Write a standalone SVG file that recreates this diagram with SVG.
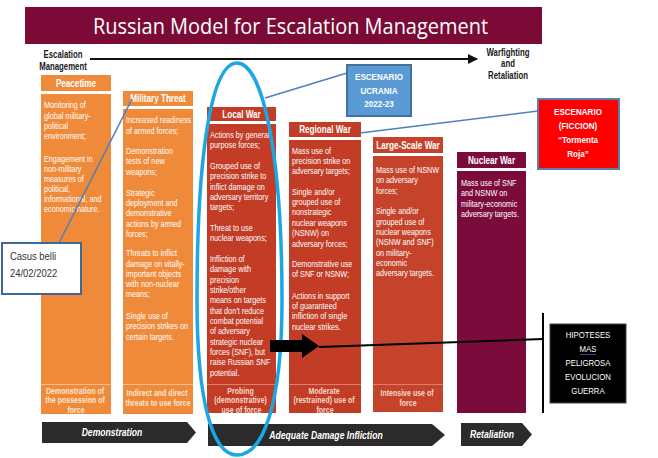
<svg xmlns="http://www.w3.org/2000/svg" width="658" height="458" viewBox="0 0 658 458">
<style>
  text { font-family: "Liberation Sans", Arial, sans-serif; }
  .title { font-family: "Open Sans", "Liberation Sans", sans-serif; font-size: 22px; fill: #ffffff; }
  .lbl { font-size: 10px; font-weight: bold; fill: #1a1a1a; text-anchor: middle; }
  .hd { font-size: 11px; font-weight: bold; fill: #ffffff; text-anchor: middle; }
  .bt { font-size: 9.8px; fill: #ffffff; }
  .ft { font-size: 8.8px; font-weight: bold; text-anchor: middle; }
  .fto { fill: #fde6d2; }
  .ftr { fill: #f8d8cc; }
  .orange { fill: #ef8a3a; }
  .red { fill: #c23c26; }
  .red2 { fill: #c5432a; }
  .maroon { fill: #7b0b3b; }
  .sepo { stroke: #f7bb8e; stroke-width: 1.2; }
  .sepr { stroke: #dd7f6c; stroke-width: 1.2; }
  .bar { fill: #2b2b2b; }
  .bartxt { font-size: 10.5px; font-weight: bold; font-style: italic; fill: #ffffff; text-anchor: middle; }
  .callout { stroke: #4f81bd; stroke-width: 1.6; fill: none; }
  .sc { font-size: 9.5px; font-weight: bold; fill: #ffffff; text-anchor: middle; }
  .hip { font-size: 9.5px; fill: #ffffff; text-anchor: middle; }
</style>
<defs>
  <marker id="ah" viewBox="0 0 10 10" refX="9" refY="5" markerWidth="5" markerHeight="5" orient="auto">
    <path d="M0,0 L10,5 L0,10 Z" fill="#111111"/>
  </marker>
</defs>
<rect width="658" height="458" fill="#ffffff"/>

<g id="title">
  <rect x="25" y="7" width="517" height="37" fill="#7b0b36"/>
  <text class="title" x="93" y="33.5" textLength="395" lengthAdjust="spacingAndGlyphs">Russian Model for Escalation Management</text>
</g>

<g id="escalation-label">
  <text class="lbl" transform="translate(63 0) scale(0.78 1)"><tspan x="0" y="58">Escalation</tspan><tspan x="0" y="70">Management</tspan></text>
</g>
<g id="warfighting-label">
  <text class="lbl" transform="translate(508 0) scale(0.78 1)"><tspan x="0" y="56">Warfighting</tspan><tspan x="0" y="67.5">and</tspan><tspan x="0" y="79">Retaliation</tspan></text>
</g>

<!-- Peacetime -->
<g id="peacetime">
  <rect class="orange" x="41" y="75" width="70" height="16"/>
  <text class="hd" transform="translate(76 0) scale(0.74 1)" x="0" y="87">Peacetime</text>
  <rect class="orange" x="41" y="94" width="70" height="320"/>
  <line class="sepo" x1="41" y1="384.5" x2="111" y2="384.5"/>
  <text class="bt" transform="translate(44 0) scale(0.74 1)">
    <tspan x="0" y="108.5">Monitoring of</tspan>
    <tspan x="0" y="119">global military-</tspan>
    <tspan x="0" y="129.5">political</tspan>
    <tspan x="0" y="139.5">environment;</tspan>
    <tspan x="0" y="162.5">Engagement in</tspan>
    <tspan x="0" y="172.5">non-military</tspan>
    <tspan x="0" y="182.5">measures of</tspan>
    <tspan x="0" y="192.5">political,</tspan>
    <tspan x="0" y="202.5">informational, and</tspan>
    <tspan x="0" y="212.5">economic nature.</tspan>
  </text>
  <text class="ft fto" transform="translate(76 0) scale(0.8 1)">
    <tspan x="0" y="394">Demonstration of</tspan>
    <tspan x="0" y="403.5">the possession of</tspan>
    <tspan x="0" y="413">force</tspan>
  </text>
</g>

<!-- Military Threat -->
<g id="military-threat">
  <rect class="orange" x="123" y="91" width="70" height="15"/>
  <text class="hd" transform="translate(158 0) scale(0.74 1)" x="0" y="102.5">Military Threat</text>
  <rect class="orange" x="123" y="109" width="70" height="305"/>
  <line class="sepo" x1="123" y1="384.5" x2="193" y2="384.5"/>
  <text class="bt" transform="translate(126 0) scale(0.74 1)">
    <tspan x="0" y="123.5">Increased readiness</tspan>
    <tspan x="0" y="134.5">of armed forces;</tspan>
    <tspan x="0" y="154.5">Demonstration</tspan>
    <tspan x="0" y="164.5">tests of new</tspan>
    <tspan x="0" y="175.5">weapons;</tspan>
    <tspan x="0" y="196.5">Strategic</tspan>
    <tspan x="0" y="206.5">deployment and</tspan>
    <tspan x="0" y="216.5">demonstrative</tspan>
    <tspan x="0" y="227.5">actions by armed</tspan>
    <tspan x="0" y="237.5">forces;</tspan>
    <tspan x="0" y="256.5">Threats to inflict</tspan>
    <tspan x="0" y="267.5">damage on vitally-</tspan>
    <tspan x="0" y="277.5">important objects</tspan>
    <tspan x="0" y="287.5">with non-nuclear</tspan>
    <tspan x="0" y="297.5">means;</tspan>
    <tspan x="0" y="319.5">Single use of</tspan>
    <tspan x="0" y="329.5">precision strikes on</tspan>
    <tspan x="0" y="340.5">certain targets.</tspan>
  </text>
  <text class="ft fto" transform="translate(158 0) scale(0.8 1)">
    <tspan x="0" y="396">Indirect and direct</tspan>
    <tspan x="0" y="406">threats to use force</tspan>
  </text>
</g>

<!-- Local War -->
<g id="local-war">
  <rect class="red" x="207" y="107" width="69" height="14"/>
  <text class="hd" transform="translate(241.5 0) scale(0.74 1)" x="0" y="118">Local War</text>
  <rect class="red" x="207" y="124" width="69" height="289"/>
  <line class="sepr" x1="207" y1="384.5" x2="276" y2="384.5"/>
  <text class="bt" transform="translate(210 0) scale(0.74 1)">
    <tspan x="0" y="138.5">Actions by general</tspan>
    <tspan x="0" y="148.5">purpose forces;</tspan>
    <tspan x="0" y="169.5">Grouped use of</tspan>
    <tspan x="0" y="179.5">precision strike to</tspan>
    <tspan x="0" y="190.5">inflict damage on</tspan>
    <tspan x="0" y="200.5">adversary territory</tspan>
    <tspan x="0" y="210.5">targets;</tspan>
    <tspan x="0" y="231.5">Threat to use</tspan>
    <tspan x="0" y="241.5">nuclear weapons;</tspan>
    <tspan x="0" y="262.5">Infliction of</tspan>
    <tspan x="0" y="272.5">damage with</tspan>
    <tspan x="0" y="283">precision</tspan>
    <tspan x="0" y="293">strike/other</tspan>
    <tspan x="0" y="303.5">means on targets</tspan>
    <tspan x="0" y="314">that don’t reduce</tspan>
    <tspan x="0" y="324">combat potential</tspan>
    <tspan x="0" y="334.5">of adversary</tspan>
    <tspan x="0" y="345">strategic nuclear</tspan>
    <tspan x="0" y="355">forces (SNF), but</tspan>
    <tspan x="0" y="365.5">raise Russian SNF</tspan>
    <tspan x="0" y="376">potential.</tspan>
  </text>
  <text class="ft ftr" transform="translate(241.5 0) scale(0.8 1)">
    <tspan x="0" y="394">Probing</tspan>
    <tspan x="0" y="403.5">(demonstrative)</tspan>
    <tspan x="0" y="413">use of force</tspan>
  </text>
</g>

<!-- Regional War -->
<g id="regional-war">
  <rect class="red" x="289" y="122" width="72" height="15"/>
  <text class="hd" transform="translate(325 0) scale(0.74 1)" x="0" y="133.5">Regional War</text>
  <rect class="red" x="289" y="140" width="72" height="273"/>
  <line class="sepr" x1="289" y1="384.5" x2="361" y2="384.5"/>
  <text class="bt" transform="translate(292 0) scale(0.74 1)">
    <tspan x="0" y="154.5">Mass use of</tspan>
    <tspan x="0" y="164.5">precision strike on</tspan>
    <tspan x="0" y="174.5">adversary targets;</tspan>
    <tspan x="0" y="195.5">Single and/or</tspan>
    <tspan x="0" y="205.5">grouped use of</tspan>
    <tspan x="0" y="215.5">nonstrategic</tspan>
    <tspan x="0" y="226.5">nuclear weapons</tspan>
    <tspan x="0" y="236.5">(NSNW) on</tspan>
    <tspan x="0" y="247">adversary forces;</tspan>
    <tspan x="0" y="267.5">Demonstrative use</tspan>
    <tspan x="0" y="277.5">of SNF or NSNW;</tspan>
    <tspan x="0" y="299.5">Actions in support</tspan>
    <tspan x="0" y="309.5">of guaranteed</tspan>
    <tspan x="0" y="319.5">infliction of single</tspan>
    <tspan x="0" y="330.5">nuclear strikes.</tspan>
  </text>
  <text class="ft ftr" transform="translate(325 0) scale(0.8 1)">
    <tspan x="0" y="394">Moderate</tspan>
    <tspan x="0" y="403.5">(restrained) use of</tspan>
    <tspan x="0" y="413">force</tspan>
  </text>
</g>

<!-- Large-Scale War -->
<g id="large-scale-war">
  <rect class="red2" x="373" y="137" width="70" height="16"/>
  <text class="hd" transform="translate(408 0) scale(0.74 1)" x="0" y="149">Large-Scale War</text>
  <rect class="red2" x="373" y="156" width="70" height="256"/>
  <line class="sepr" x1="373" y1="384.5" x2="443" y2="384.5"/>
  <text class="bt" transform="translate(376 0) scale(0.74 1)">
    <tspan x="0" y="173.5">Mass use of NSNW</tspan>
    <tspan x="0" y="183.5">on adversary</tspan>
    <tspan x="0" y="194.5">forces;</tspan>
    <tspan x="0" y="214.5">Single and/or</tspan>
    <tspan x="0" y="225.5">grouped use of</tspan>
    <tspan x="0" y="235.5">nuclear weapons</tspan>
    <tspan x="0" y="245.5">(NSNW and SNF)</tspan>
    <tspan x="0" y="256.5">on military-</tspan>
    <tspan x="0" y="266.5">economic</tspan>
    <tspan x="0" y="276.5">adversary targets.</tspan>
  </text>
  <text class="ft ftr" transform="translate(408 0) scale(0.8 1)">
    <tspan x="0" y="396.5">Intensive use of</tspan>
    <tspan x="0" y="406">force</tspan>
  </text>
</g>

<!-- Nuclear War -->
<g id="nuclear-war">
  <rect class="maroon" x="457" y="152" width="69" height="16"/>
  <text class="hd" transform="translate(491.5 0) scale(0.74 1)" x="0" y="164">Nuclear War</text>
  <rect class="maroon" x="457" y="171" width="69" height="242"/>
  <text class="bt" transform="translate(461 0) scale(0.74 1)">
    <tspan x="0" y="186.5">Mass use of SNF</tspan>
    <tspan x="0" y="196.5">and NSNW on</tspan>
    <tspan x="0" y="207.5">military-economic</tspan>
    <tspan x="0" y="217.5">adversary targets.</tspan>
  </text>
</g>

<!-- Bottom phase arrows -->
<g id="phase-demonstration">
  <polygon class="bar" points="42,422 187,422 196,432.5 187,443 42,443"/>
  <text class="bartxt" transform="translate(112 0) scale(0.82 1)" x="0" y="436.5">Demonstration</text>
</g>
<g id="phase-adequate">
  <polygon class="bar" points="208,424 432,424 445,435 432,446 208,446"/>
  <text class="bartxt" transform="translate(326 0) scale(0.82 1)" x="0" y="439">Adequate Damage Infliction</text>
</g>
<g id="phase-retaliation">
  <polygon class="bar" points="461,423 522,423 532,434.5 522,446 461,446"/>
  <text class="bartxt" transform="translate(492 0) scale(0.82 1)" x="0" y="438.5">Retaliation</text>
</g>

<!-- Highlight ellipse -->
<g id="highlight-ellipse">
  <path d="M237,63 C262,63 282,150 282,300 C282,405 263,455 237,455 C212,455 197,400 197,300 C197,150 212,63 237,63 Z" fill="none" stroke="#1ba6e4" stroke-width="3.5"/>
</g>

<!-- Connectors -->
<g id="connectors">
  <line x1="90" y1="59" x2="477" y2="59" stroke="#111111" stroke-width="2" marker-end="url(#ah)"/>
  <line class="callout" x1="58" y1="245" x2="132" y2="99"/>
  <line class="callout" x1="347" y1="73" x2="265" y2="98"/>
  <line class="callout" x1="360" y1="133" x2="538" y2="111"/>
  <polygon points="270,340 302,340 302,334 319,346 302,358 302,352 270,352" fill="#000000"/>
  <line x1="319" y1="347" x2="543" y2="339" stroke="#000000" stroke-width="2"/>
  <line x1="543" y1="313" x2="543" y2="413" stroke="#000000" stroke-width="2"/>
</g>

<!-- Callout boxes -->
<g id="casus-belli">
  <rect x="2" y="243" width="79" height="51" fill="#ffffff" stroke="#3f6797" stroke-width="2"/>
  <text transform="translate(10 0) scale(0.9 1)" font-size="10.5" fill="#333333"><tspan x="0" y="260">Casus belli</tspan><tspan x="0" y="277">24/02/2022</tspan></text>
</g>

<g id="escenario-ucrania">
  <rect x="347" y="65" width="64" height="51" fill="#5b9bd5" stroke="#41719c" stroke-width="2"/>
  <text class="sc" transform="translate(379 0) scale(0.85 1)"><tspan x="0" y="80.5">ESCENARIO</tspan><tspan x="0" y="94">UCRANIA</tspan><tspan x="0" y="107.5">2022-23</tspan></text>
</g>

<g id="escenario-ficcion">
  <rect x="538" y="99" width="81" height="70" fill="#ff0000" stroke="#5a7fa8" stroke-width="2"/>
  <text class="sc" transform="translate(578 0) scale(0.85 1)"><tspan x="0" y="115.5">ESCENARIO</tspan><tspan x="0" y="129.5">(FICCION)</tspan><tspan x="0" y="143">“Tormenta</tspan><tspan x="0" y="157">Roja”</tspan></text>
</g>

<g id="hipoteses">
  <rect x="550" y="324" width="76" height="79" fill="#000000" stroke="#444444" stroke-width="1"/>
  <text class="hip" transform="translate(588 0) scale(0.82 1)"><tspan x="0" y="338.5">HIPOTESES</tspan><tspan x="0" y="352.5">MAS</tspan><tspan x="0" y="366.5">PELIGROSA</tspan><tspan x="0" y="380.5">EVOLUCION</tspan><tspan x="0" y="394.5">GUERRA</tspan></text>
  <line x1="580" y1="354.5" x2="596" y2="354.5" stroke="#3344aa" stroke-width="1"/>
</g>
</svg>
